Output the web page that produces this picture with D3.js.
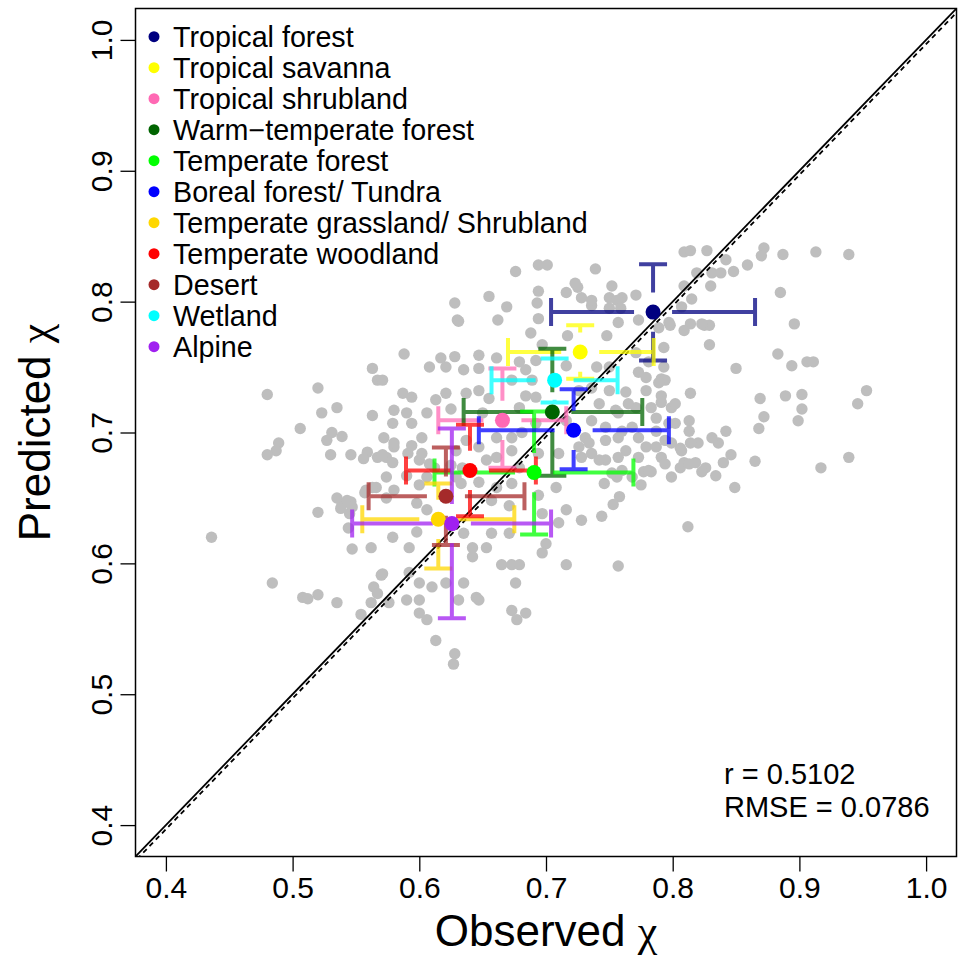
<!DOCTYPE html>
<html>
<head>
<meta charset="utf-8">
<script src="https://cdn.jsdelivr.net/npm/d3@7"></script>
<style>
  body { margin: 0; background: #fff; }
  svg { display: block; font-family: "Liberation Sans", Arial, Helvetica, sans-serif; }
</style>
</head>
<body>
<svg width="958" height="955"></svg>
<script>
// observed vs predicted chi, sites in grey, biome means with error bars

var lim = [0.376, 1.024];
var ticks = [0.4, 0.5, 0.6, 0.7, 0.8, 0.9, 1.0];

// single sites [observed, predicted]
var sites = [
  [0.628,0.799],[0.630,0.786],[0.588,0.760],[0.617,0.757],[0.628,0.758],[0.608,0.750],[0.621,0.750],[0.563,0.749],
  [0.676,0.823],[0.694,0.828],[0.701,0.828],[0.694,0.808],[0.655,0.804],
  [0.567,0.740],[0.480,0.729],[0.520,0.734],[0.535,0.719],[0.523,0.715],[0.563,0.713],[0.506,0.703],[0.531,0.700],
  [0.527,0.694],[0.539,0.697],[0.489,0.692],[0.487,0.686],[0.480,0.683],[0.530,0.683],[0.546,0.683],[0.559,0.685],
  [0.556,0.680],[0.567,0.681],[0.558,0.656],[0.566,0.658],[0.535,0.650],[0.539,0.645],[0.546,0.647],[0.538,0.642],
  [0.520,0.639],[0.545,0.638],
  [0.436,0.620],[0.544,0.627],[0.547,0.611],[0.562,0.612],[0.570,0.591],[0.564,0.582],[0.484,0.585],[0.508,0.574],
  [0.512,0.573],[0.520,0.576],[0.535,0.570],[0.562,0.570],[0.554,0.561],[0.567,0.577],
  [0.613,0.541],[0.628,0.531],[0.627,0.523],
  [0.746,0.661],[0.756,0.666],[0.758,0.651],[0.753,0.645],[0.744,0.636],[0.775,0.660],[0.777,0.670],[0.783,0.670],
  [0.812,0.628],[0.757,0.598],
  [0.809,0.838],[0.814,0.839],[0.827,0.839],[0.872,0.841],[0.870,0.835],[0.887,0.836],[0.913,0.838],[0.939,0.836],
  [0.859,0.828],[0.819,0.822],[0.831,0.822],[0.842,0.832],[0.838,0.822],[0.848,0.823],[0.830,0.812],[0.885,0.807],
  [0.809,0.812],[0.815,0.802],[0.807,0.796],[0.896,0.783],[0.814,0.783],[0.809,0.778],[0.825,0.782],[0.829,0.782],
  [0.829,0.767],[0.883,0.760],[0.894,0.751],[0.906,0.754],[0.911,0.754],[0.850,0.749],[0.814,0.730],[0.869,0.726],
  [0.889,0.728],[0.902,0.729],[0.902,0.718],[0.953,0.732],[0.946,0.722],[0.872,0.712],[0.813,0.709],[0.813,0.701],
  [0.868,0.703],[0.899,0.709],[0.836,0.692],[0.846,0.683],[0.840,0.677],[0.865,0.678],[0.809,0.677],[0.818,0.677],
  [0.826,0.673],[0.823,0.670],[0.834,0.667],[0.849,0.658],[0.917,0.673],[0.939,0.681],[0.806,0.688],[0.806,0.673],
  [0.669,0.796],[0.693,0.799],[0.716,0.807],[0.728,0.803],[0.725,0.811],[0.752,0.812],[0.760,0.803],[0.750,0.795],
  [0.736,0.797],[0.631,0.785],[0.662,0.786],[0.694,0.787],[0.717,0.774],[0.688,0.776],[0.748,0.774],[0.757,0.784],
  [0.773,0.786],[0.789,0.780],[0.797,0.784],[0.793,0.765],[0.793,0.750],[0.791,0.741],[0.781,0.754],[0.771,0.761],
  [0.773,0.746],[0.750,0.750],[0.740,0.750],[0.647,0.759],[0.635,0.748],[0.647,0.749],[0.661,0.757],[0.679,0.754],
  [0.692,0.755],[0.697,0.767],[0.684,0.748],[0.673,0.740],[0.689,0.740],[0.716,0.751],[0.726,0.732],[0.736,0.734],
  [0.750,0.732],[0.763,0.731],[0.779,0.732],[0.794,0.740],[0.791,0.728],[0.571,0.740],[0.587,0.730],[0.594,0.727],
  [0.613,0.725],[0.637,0.730],[0.647,0.732],[0.655,0.726],[0.621,0.730],[0.606,0.715],[0.625,0.718],[0.650,0.715],
  [0.684,0.728],[0.692,0.727],[0.679,0.719],[0.692,0.707],[0.681,0.700],[0.673,0.696],[0.661,0.696],[0.647,0.689],
  [0.637,0.694],[0.629,0.686],[0.602,0.696],[0.594,0.707],[0.590,0.715],[0.580,0.717],[0.579,0.707],[0.572,0.696],
  [0.580,0.689],[0.591,0.684],[0.574,0.681],[0.600,0.679],[0.612,0.673],[0.625,0.675],[0.634,0.673],[0.653,0.679],
  [0.661,0.681],[0.673,0.686],[0.679,0.673],[0.694,0.684],[0.710,0.684],[0.726,0.689],[0.736,0.684],[0.747,0.679],
  [0.763,0.686],[0.779,0.689],[0.791,0.681],[0.794,0.694],[0.797,0.707],[0.787,0.711],[0.768,0.704],[0.757,0.696],
  [0.747,0.704],[0.736,0.709],[0.731,0.696],[0.757,0.715],[0.771,0.719],[0.742,0.722],[0.716,0.709],[0.799,0.719],
  [0.799,0.666],[0.768,0.666],[0.752,0.669],[0.574,0.666],[0.606,0.666],[0.629,0.666],
  [0.571,0.683],[0.580,0.692],[0.579,0.677],[0.594,0.690],[0.602,0.684],[0.608,0.676],[0.590,0.667],[0.600,0.660],
  [0.580,0.656],[0.574,0.650],[0.563,0.658],[0.557,0.654],[0.543,0.648],[0.547,0.643],[0.598,0.646],[0.606,0.641],
  [0.633,0.661],[0.647,0.662],[0.661,0.658],[0.673,0.661],[0.657,0.648],[0.671,0.644],[0.694,0.652],[0.708,0.658],
  [0.697,0.638],[0.716,0.641],[0.728,0.633],[0.710,0.631],[0.700,0.615],[0.657,0.623],[0.671,0.623],[0.653,0.612],
  [0.642,0.612],[0.635,0.623],[0.598,0.624],[0.579,0.620],[0.592,0.612],[0.673,0.599],[0.679,0.599],[0.665,0.599],
  [0.642,0.605],[0.716,0.599],[0.697,0.608],[0.571,0.592],[0.592,0.593],[0.600,0.585],[0.610,0.582],[0.621,0.585],
  [0.635,0.585],[0.645,0.574],[0.631,0.572],[0.600,0.572],[0.590,0.572],[0.576,0.570],[0.600,0.562],[0.606,0.557],
  [0.676,0.585],[0.673,0.564],[0.677,0.557],[0.684,0.562],[0.647,0.572],
  [0.739,0.825],[0.723,0.814],[0.750,0.803],[0.736,0.801],[0.756,0.801],[0.771,0.805],[0.759,0.795],[0.798,0.782],
  [0.823,0.783],[0.789,0.738],[0.779,0.742],[0.765,0.722],[0.755,0.717],[0.783,0.719],[0.802,0.722],[0.791,0.723],
  [0.802,0.707],[0.787,0.701],[0.773,0.696],[0.760,0.701],[0.747,0.694],[0.734,0.692],[0.728,0.681],[0.742,0.679],
  [0.757,0.681],[0.773,0.681],[0.787,0.689],[0.799,0.692],[0.807,0.686],[0.813,0.676],[0.794,0.676],[0.781,0.671],
  [0.760,0.671],[0.831,0.696],[0.820,0.692],[0.842,0.701],[0.814,0.692]
];

// biome means and error bar ends
var biomes = ["Tropical forest", "Tropical savanna", "Tropical shrubland", "Warm\u2212temperate forest",
  "Temperate forest", "Boreal forest/ Tundra", "Temperate grassland/ Shrubland", "Temperate woodland",
  "Desert", "Wetland", "Alpine"];
var meanObs  = [0.7845, 0.727, 0.6656, 0.705, 0.6906, 0.7218, 0.615, 0.640, 0.621, 0.7068, 0.6257];
var meanPred = [0.792, 0.7615, 0.7093, 0.7157, 0.6694, 0.7017, 0.6337, 0.671, 0.6513, 0.740, 0.6304];
var obsLo  = [0.704, 0.670, 0.615, 0.635, 0.612, 0.647, 0.555, 0.5895, 0.560, 0.657, 0.547];
var obsHi  = [0.865, 0.785, 0.716, 0.776, 0.769, 0.797, 0.675, 0.692, 0.683, 0.7565, 0.704];
var predLo = [0.755, 0.741, 0.673, 0.667, 0.622, 0.672, 0.596, 0.636, 0.614, 0.723, 0.558];
var predHi = [0.8285, 0.782, 0.749, 0.764, 0.716, 0.733, 0.661, 0.706, 0.6885, 0.7565, 0.703];
var biomeColors = ["#000080", "#ffff00", "#ff69b4", "#006400", "#00ff00", "#0000ff",
  "#ffd700", "#ff0000", "#a52a2a", "#00ffff", "#a020f0"];

var fit = [-0.002, 1.0]; // dashed line, intercept and slope
var stats = ["r = 0.5102", "RMSE = 0.0786"];

var svg = d3.select("svg"),
    box = {left: 135.5, right: 956.5, top: 8.5, bottom: 856.5};

var x = d3.scaleLinear().domain(lim).range([box.left, box.right]);
var y = d3.scaleLinear().domain(lim).range([box.bottom, box.top]);

svg.append("defs").append("clipPath").attr("id", "clip")
  .append("rect")
  .attr("x", box.left).attr("y", box.top)
  .attr("width", box.right - box.left).attr("height", box.bottom - box.top);

var plot = svg.append("g").attr("clip-path", "url(#clip)");

// grey sites
plot.append("g")
  .selectAll("circle")
  .data(sites)
  .join("circle")
  .attr("cx", function(d) { return x(d[0]); })
  .attr("cy", function(d) { return y(d[1]); })
  .attr("r", 5.7)
  .attr("fill", "#bebebe");

// 1:1 line and fitted line
plot.append("line")
  .attr("x1", x(lim[0])).attr("y1", y(lim[0]))
  .attr("x2", x(lim[1])).attr("y2", y(lim[1]))
  .attr("stroke", "#000").attr("stroke-width", 1.8);

plot.append("line")
  .attr("x1", x(lim[0])).attr("y1", y(fit[0] + fit[1] * lim[0]))
  .attr("x2", x(lim[1])).attr("y2", y(fit[0] + fit[1] * lim[1]))
  .attr("stroke", "#000").attr("stroke-width", 1.8)
  .attr("stroke-dasharray", "5,4")
  .attr("transform", "translate(1.5,0)");

// error bars: gap round the mean, cap at the end
var gap = 0.015, cap = 14;

var bars = plot.append("g")
  .selectAll("g")
  .data(biomes)
  .join("g")
  .attr("opacity", 0.75)
  .attr("stroke", function(d, i) { return biomeColors[i]; })
  .attr("stroke-width", 4)
  .attr("fill", "none");

bars.append("path")
  .attr("d", function(d, i) {
    var mx = x(meanObs[i]), my = y(meanPred[i]), p = d3.path();
    var xl = x(obsLo[i]), xh = x(obsHi[i]), yl = y(predLo[i]), yh = y(predHi[i]);
    var gl = x(meanObs[i] - gap), gh = x(meanObs[i] + gap);
    var gd = y(meanPred[i] - gap), gu = y(meanPred[i] + gap);
    if (gl > xl) { p.moveTo(xl, my); p.lineTo(gl, my); }
    if (gh < xh) { p.moveTo(gh, my); p.lineTo(xh, my); }
    if (gd < yl) { p.moveTo(mx, gd); p.lineTo(mx, yl); }
    if (gu > yh) { p.moveTo(mx, gu); p.lineTo(mx, yh); }
    p.moveTo(xl, my - cap); p.lineTo(xl, my + cap);
    p.moveTo(xh, my - cap); p.lineTo(xh, my + cap);
    p.moveTo(mx - cap, yl); p.lineTo(mx + cap, yl);
    p.moveTo(mx - cap, yh); p.lineTo(mx + cap, yh);
    return p.toString();
  });

plot.append("g")
  .selectAll("circle")
  .data(biomes)
  .join("circle")
  .attr("cx", function(d, i) { return x(meanObs[i]); })
  .attr("cy", function(d, i) { return y(meanPred[i]); })
  .attr("r", 7.5)
  .attr("fill", function(d, i) { return biomeColors[i]; });

// axes
var xAxis = svg.append("g")
  .attr("transform", "translate(0," + box.bottom + ")")
  .call(d3.axisBottom(x).tickValues(ticks).tickSize(15).tickFormat(d3.format(".1f")));
xAxis.select(".domain").remove();
xAxis.selectAll("line").attr("stroke-width", 1.3);
xAxis.selectAll("text")
  .attr("y", 41).attr("dy", 0)
  .attr("font-size", 30)
  .attr("font-family", "Liberation Sans, Arial, sans-serif");

var yAxis = svg.append("g")
  .attr("transform", "translate(" + box.left + ",0)")
  .call(d3.axisLeft(y).tickValues(ticks).tickSize(15).tickFormat(d3.format(".1f")));
yAxis.select(".domain").remove();
yAxis.selectAll("line").attr("stroke-width", 1.3);
yAxis.selectAll("text")
  .attr("transform", "rotate(-90)")
  .attr("x", 0).attr("y", -24).attr("dy", 0)
  .attr("text-anchor", "middle")
  .attr("font-size", 30)
  .attr("font-family", "Liberation Sans, Arial, sans-serif");

svg.append("rect")
  .attr("x", box.left).attr("y", box.top)
  .attr("width", box.right - box.left).attr("height", box.bottom - box.top)
  .attr("fill", "none").attr("stroke", "#000").attr("stroke-width", 1.5);

// axis titles, chi in a serif face like the symbol font
var xTitle = svg.append("text")
  .attr("x", (box.left + box.right) / 2).attr("y", 946)
  .attr("text-anchor", "middle")
  .attr("font-size", 44);
xTitle.append("tspan").text("Observed ");
xTitle.append("tspan").attr("font-family", "Liberation Serif, serif").text("\u03c7");

var yTitle = svg.append("text")
  .attr("transform", "translate(50," + (box.top + box.bottom) / 2 + ") rotate(-90)")
  .attr("text-anchor", "middle")
  .attr("font-size", 44);
yTitle.append("tspan").text("Predicted ");
yTitle.append("tspan").attr("font-family", "Liberation Serif, serif").text("\u03c7");

// legend
var legend = svg.append("g")
  .selectAll("g")
  .data(biomes)
  .join("g")
  .attr("transform", function(d, i) { return "translate(154," + (36.7 + i * 31) + ")"; });

legend.append("circle")
  .attr("r", 5.5)
  .attr("fill", function(d, i) { return biomeColors[i]; });

legend.append("text")
  .attr("x", 19).attr("y", 10)
  .attr("font-size", 28.7)
  .text(function(d) { return d; });

// r and RMSE
svg.append("g")
  .selectAll("text")
  .data(stats)
  .join("text")
  .attr("x", 724)
  .attr("y", function(d, i) { return 784 + i * 33; })
  .attr("font-size", 29)
  .text(function(d) { return d; });
</script>
</body>
</html>
